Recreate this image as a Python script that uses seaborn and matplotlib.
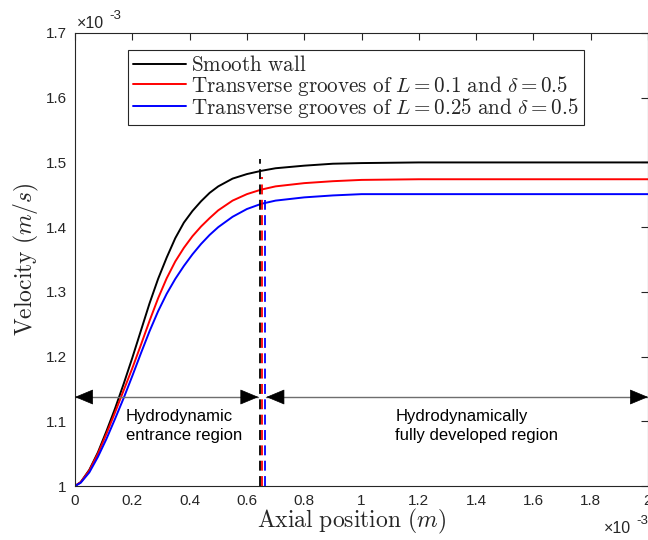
import numpy as np
import pandas as pd
import matplotlib
matplotlib.use("Agg")
import matplotlib.pyplot as plt
import seaborn as sns

# Axial position (x 1e-3 m)
x_pos = [0.00, 0.02, 0.05, 0.08, 0.11, 0.14, 0.17, 0.20, 0.23, 0.26, 0.29, 0.32, 0.35,
         0.38, 0.41, 0.44, 0.47, 0.50, 0.55, 0.60, 0.65, 0.70, 0.80, 0.90, 1.00,
         1.20, 1.40, 1.60, 1.80, 2.00]
# Velocity (x 1e-3 m/s)
v_smooth = [1.000, 1.006, 1.025, 1.052, 1.085, 1.120, 1.158, 1.198, 1.240, 1.282, 1.320, 1.353, 1.383,
            1.407, 1.425, 1.440, 1.453, 1.463, 1.475, 1.482, 1.487, 1.491, 1.495, 1.498, 1.499,
            1.500, 1.500, 1.500, 1.500, 1.500]
v_L01 = [1.000, 1.006, 1.024, 1.050, 1.081, 1.114, 1.148, 1.182, 1.218, 1.255, 1.290, 1.321, 1.347,
         1.368, 1.386, 1.401, 1.414, 1.426, 1.441, 1.451, 1.458, 1.463, 1.468, 1.471, 1.473,
         1.474, 1.474, 1.474, 1.474, 1.474]
v_L025 = [1.000, 1.005, 1.021, 1.045, 1.073, 1.104, 1.136, 1.170, 1.205, 1.239, 1.270, 1.297, 1.320,
          1.340, 1.358, 1.374, 1.388, 1.400, 1.416, 1.428, 1.436, 1.441, 1.446, 1.449, 1.451,
          1.451, 1.451, 1.451, 1.451, 1.451]

labels = [r'$\mathrm{Smooth\ wall}$',
          r'$\mathrm{Transverse\ grooves\ of\ }L=0.1\mathrm{\ and\ }\delta=0.5$',
          r'$\mathrm{Transverse\ grooves\ of\ }L=0.25\mathrm{\ and\ }\delta=0.5$']
colors = ['black', '#ff0000', '#0000ff']

# Entrance length markers (x 1e-3 m) and their tops
entr_x = [0.646, 0.654, 0.662]
entr_top = [1.505, 1.478, 1.442]

region_texts = ['Hydrodynamic\nentrance region', 'Hydrodynamically\nfully developed region']

df = pd.DataFrame({
    'x': x_pos * 3,
    'v': v_smooth + v_L01 + v_L025,
    'case': [labels[0]] * len(x_pos) + [labels[1]] * len(x_pos) + [labels[2]] * len(x_pos),
})

sns.set_style("white")
plt.rcParams['mathtext.fontset'] = 'cm'
plt.rcParams['font.family'] = ['Liberation Sans', 'DejaVu Sans']

fig = plt.figure(figsize=(6.48, 5.4), dpi=100)
ax = fig.add_axes([75 / 648, 54 / 540, 573 / 648, 453 / 540])

sns.lineplot(data=df, x='x', y='v', hue='case', hue_order=labels, palette=colors,
             linewidth=1.4, ax=ax, estimator=None, sort=False)

for xe, top, c in zip(entr_x, entr_top, colors):
    ax.plot([xe, xe], [1.0, top], color=c, lw=1.3, ls=(0, (5.5, 3)))

# region arrows
ay = 1.1375
gray = '#6e6e6e'
ax.plot([0.0, 0.64], [ay, ay], color=gray, lw=1.0)
ax.plot([0.668, 2.0], [ay, ay], color=gray, lw=1.0)
for tip, tail in [(0.0, 0.06), (0.64, 0.58), (0.668, 0.728), (2.0, 1.94)]:
    ax.annotate('', xy=(tip, ay), xytext=(tail, ay),
                arrowprops=dict(arrowstyle='-|>,head_length=1.2,head_width=0.5',
                                color='black', lw=0.5, shrinkA=0, shrinkB=0))

ax.text(0.178, 1.093, region_texts[0], fontsize=12, ha='left', va='center',
        linespacing=1.35, color='black')
ax.text(1.118, 1.093, region_texts[1], fontsize=12, ha='left', va='center',
        linespacing=1.35, color='black')

ax.set_xlim(0, 2.0)
ax.set_ylim(1.0, 1.7)
ax.set_xticks([0, 0.2, 0.4, 0.6, 0.8, 1.0, 1.2, 1.4, 1.6, 1.8, 2.0])
ax.set_xticklabels(['0', '0.2', '0.4', '0.6', '0.8', '1', '1.2', '1.4', '1.6', '1.8', '2'])
ax.set_yticks([1.0, 1.1, 1.2, 1.3, 1.4, 1.5, 1.6, 1.7])
ax.set_yticklabels(['1', '1.1', '1.2', '1.3', '1.4', '1.5', '1.6', '1.7'])
ax.tick_params(direction='in', length=5, width=0.8, top=True, right=True,
               labelsize=11, colors='#262626', pad=6)
for s in ax.spines.values():
    s.set_color('#262626')
    s.set_linewidth(0.8)

ax.set_xlabel(r'$\mathrm{Axial\ position\ }(m)$', fontsize=17, color='#262626', labelpad=1)
ax.xaxis.set_label_coords(0.483, -0.047, transform=ax.transAxes)
ax.xaxis.label.set_va('top')
ax.set_ylabel(r'$\mathrm{Velocity\ }(m/s)$', fontsize=17, color='#262626', labelpad=3)

# exponent labels
fig.text(77 / 648, 1 - 28 / 540, '×10', fontsize=11.5, color='#262626', ha='left', va='baseline')
fig.text(109 / 648, 1 - 19 / 540, '-3', fontsize=9.5, color='#262626', ha='left', va='baseline')
fig.text(604 / 648, 1 - 533 / 540, '×10', fontsize=11.5, color='#262626', ha='left', va='baseline')
fig.text(636 / 648, 1 - 524 / 540, '-3', fontsize=9.5, color='#262626', ha='left', va='baseline')

leg = ax.legend(loc='upper left', bbox_to_anchor=(0.0926, 0.9625), borderaxespad=0,
                fontsize=15.2, frameon=True, fancybox=False, framealpha=1,
                handlelength=2.5, handletextpad=0.25, labelspacing=-0.08,
                borderpad=0.25, title=None)
leg.get_frame().set_edgecolor('#262626')
leg.get_frame().set_linewidth(0.8)
for line in leg.get_lines():
    line.set_linewidth(1.4)

fig.savefig('out.png', dpi=100)
